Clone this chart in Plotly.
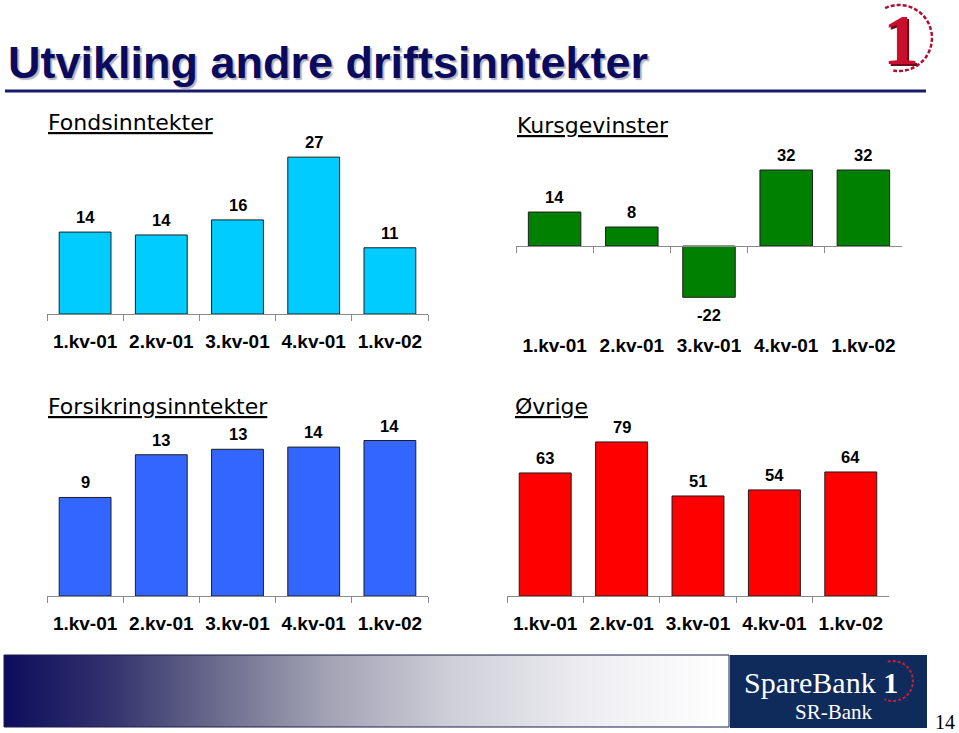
import math
import plotly.graph_objects as go

W, H = 959, 733

# ---------------- data ----------------
categories = ["1.kv-01", "2.kv-01", "3.kv-01", "4.kv-01", "1.kv-02"]
fondsinntekter = [14.1, 13.6, 16.2, 27.0, 11.4]
kursgevinster = [14.3, 8.0, -21.6, 32.0, 32.0]
forsikringsinntekter = [9.0, 12.9, 13.4, 13.6, 14.2]
ovrige = [63.1, 79.0, 51.3, 54.4, 63.6]

main_title = "Utvikling andre driftsinntekter"
panel_titles = ["Fondsinntekter", "Kursgevinster", "Forsikringsinntekter", "Øvrige"]
series = [fondsinntekter, kursgevinster, forsikringsinntekter, ovrige]
colors = ["#00CCFF", "#008000", "#3366FF", "#FF0000"]
page_number = "14"

# ---------------- geometry (pixels) ----------------
geo = [
    dict(x0=47, x1=428, zero=314, scale=5.81, yr=(0, 30), label_y=343, tx=46, ty=122),
    dict(x0=516, x1=902, zero=246, scale=2.375, yr=(-30, 36), label_y=347, tx=515, ty=125),
    dict(x0=47, x1=428, zero=596, scale=10.95, yr=(0, 15.5), label_y=625, tx=46, ty=406),
    dict(x0=507, x1=889, zero=596, scale=1.95, yr=(0, 85), label_y=625, tx=513, ty=406),
]


def fx(x):
    return x / W


def fy(y):
    return 1 - y / H


SANS = "Liberation Sans, Arial, sans-serif"
WIDE = "DejaVu Sans, Verdana, sans-serif"
SERIF = "Liberation Serif, Times New Roman, serif"

fig = go.Figure()
layout = {}
annotations = []
shapes = []

for i, (vals, col, g, ttl) in enumerate(zip(series, colors, geo, panel_titles), start=1):
    xa, ya = f"x{i}", f"y{i}"
    fig.add_trace(go.Bar(
        x=categories, y=vals, xaxis=xa, yaxis=ya,
        marker=dict(color=col, line=dict(color="#1e1e1e", width=1)),
        width=0.68, showlegend=False, hoverinfo="skip",
    ))
    top = g["zero"] - g["yr"][1] * g["scale"]
    bottom = g["zero"] - g["yr"][0] * g["scale"]
    layout[f"xaxis{i}"] = dict(
        domain=[fx(g["x0"]), fx(g["x1"])], anchor="free", position=fy(g["zero"]),
        type="category", range=[-0.5, len(categories) - 0.5],
        showline=True, linecolor="#8a8a8a", linewidth=1,
        ticks="outside", tickson="boundaries", ticklen=6, tickcolor="#8a8a8a", tickwidth=1,
        ticklabelstandoff=int(g["label_y"] - g["zero"] - 19),
        tickfont=dict(family=SANS, size=19, color="black", weight=700),
        showgrid=False, zeroline=False, fixedrange=True,
    )
    layout[f"yaxis{i}"] = dict(
        domain=[fy(bottom), fy(top)], anchor=xa, range=list(g["yr"]),
        visible=False, showgrid=False, zeroline=False, fixedrange=True,
    )
    for c, v in zip(categories, vals):
        annotations.append(dict(
            xref=xa, yref=ya, x=c, y=v, text=f"<b>{v:.0f}</b>", showarrow=False,
            yanchor="middle", yshift=15 if v >= 0 else -18,
            font=dict(family=SANS, size=16.5, color="black"),
        ))
    annotations.append(dict(
        xref="x5", yref="y5", x=g["tx"], y=g["ty"], xanchor="left", yanchor="middle",
        text=f"<u>{ttl}</u>", showarrow=False,
        font=dict(family=WIDE, size=22, color="black"),
    ))

# pixel-space overlay axes for page decoration
layout["xaxis5"] = dict(domain=[0, 1], range=[0, W], visible=False, fixedrange=True, anchor="y5")
layout["yaxis5"] = dict(domain=[0, 1], range=[H, 0], visible=False, fixedrange=True, anchor="x5")

# bottom gradient banner
fig.add_trace(go.Scatter(
    x=[4, 729, 729, 4, 4], y=[655, 655, 727, 727, 655], xaxis="x5", yaxis="y5",
    mode="lines", fill="toself",
    fillgradient=dict(type="horizontal", colorscale=[
        [0.0, "#0c0c5c"], [0.15, "#34346e"], [0.29, "#6a6a8c"], [0.44, "#a0a0b3"],
        [0.62, "#cfcfd9"], [0.82, "#efeff3"], [1.0, "#ffffff"]]),
    line=dict(color="#1c1c4c", width=1), hoverinfo="skip", showlegend=False,
))

# SpareBank box
shapes.append(dict(type="rect", xref="x5", yref="y5", x0=730, x1=927, y0=655, y1=728,
                   fillcolor="#0f2b5b", line=dict(width=0), layer="above"))
annotations.append(dict(xref="x5", yref="y5", x=742, y=682, xanchor="left", yanchor="middle",
                        text="SpareBank <b>1</b>", showarrow=False,
                        font=dict(family=SERIF, size=30, color="white")))
annotations.append(dict(xref="x5", yref="y5", x=834, y=712, xanchor="center", yanchor="middle",
                        text="SR-Bank", showarrow=False,
                        font=dict(family=SERIF, size=21, color="white")))
annotations.append(dict(xref="x5", yref="y5", x=945, y=722, xanchor="center", yanchor="middle",
                        text=page_number, showarrow=False,
                        font=dict(family=SERIF, size=20, color="black")))


def arc_path(cx, cy, r, a0, a1, n=40):
    pts = []
    for k in range(n + 1):
        a = math.radians(a0 + (a1 - a0) * k / n)
        pts.append((cx + r * math.cos(a), cy - r * math.sin(a)))
    return "M " + " L ".join(f"{x:.1f},{y:.1f}" for x, y in pts)


shapes.append(dict(type="path", xref="x5", yref="y5", path=arc_path(893, 681, 20, 105, -115),
                   line=dict(color="#c0203a", width=2, dash="3px,2px"), layer="above"))

# main title (with soft shadow)
annotations.append(dict(xref="x5", yref="y5", x=6, y=62, xanchor="left", yanchor="middle",
                        text=f"<b>{main_title}</b>", showarrow=False,
                        font=dict(family=SANS, size=45, color="#0b0b5e",
                                  shadow="2px 2px 1px #b4b4c4")))
shapes.append(dict(type="line", xref="x5", yref="y5", x0=5, x1=926, y0=91, y1=91,
                   line=dict(color="#1a1a6e", width=3)))

# top-right logo
shapes.append(dict(type="path", xref="x5", yref="y5", path=arc_path(899, 38, 33, 115, -100),
                   line=dict(color="#b01030", width=2.5, dash="4px,2px")))
annotations.append(dict(xref="x5", yref="y5", x=901, y=40, xanchor="center", yanchor="middle",
                        text="<b>1</b>", showarrow=False,
                        font=dict(family=SERIF, size=72, color="#c8102e",
                                  shadow="2px 2px 0px #6a0a18")))

fig.update_layout(
    width=W, height=H, margin=dict(l=0, r=0, t=0, b=0),
    paper_bgcolor="white", plot_bgcolor="rgba(0,0,0,0)",
    template="none", showlegend=False,
    annotations=annotations, shapes=shapes, **layout,
)

fig.write_html("out.html", config={"displayModeBar": False},
               post_script="document.body.style.margin='0';")
